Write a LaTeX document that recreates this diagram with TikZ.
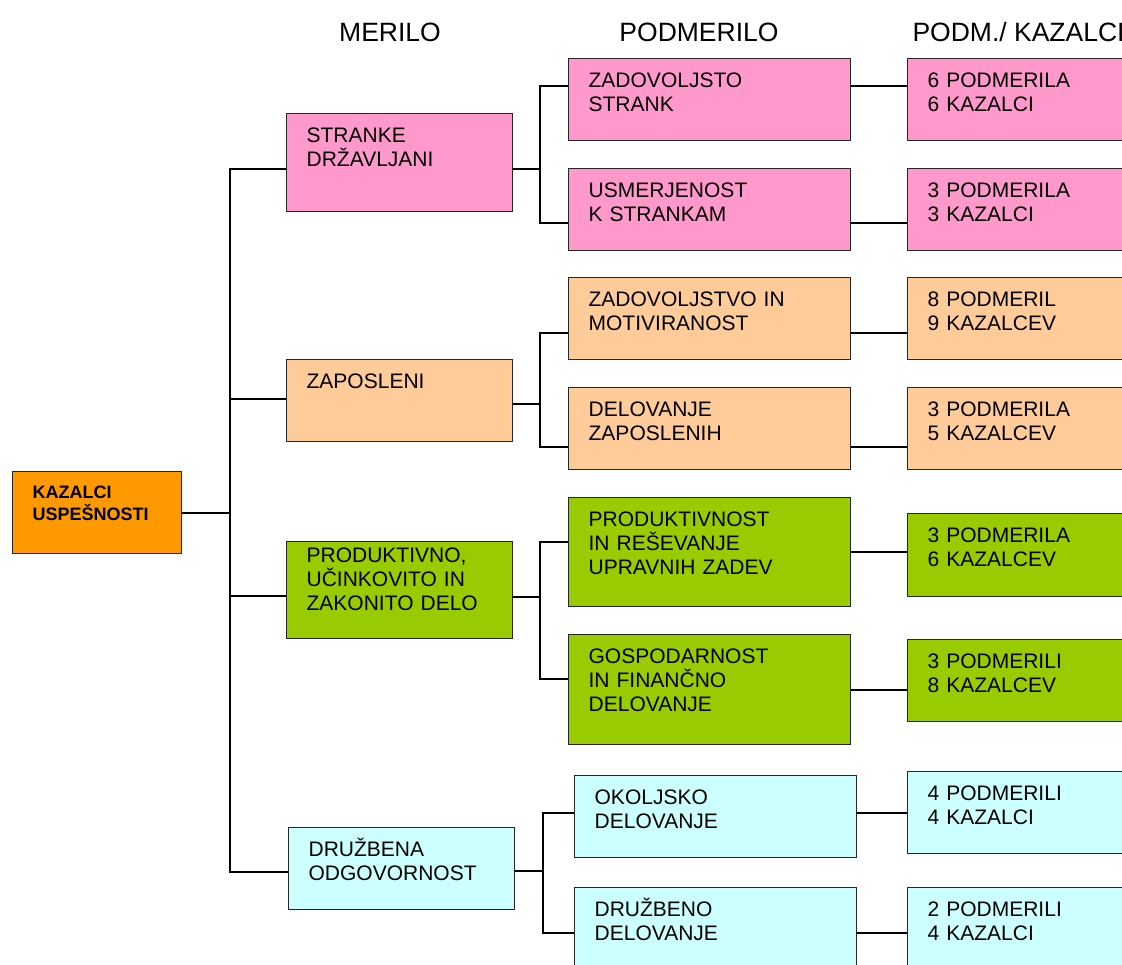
\documentclass[tikz,border=0pt]{standalone}
\usepackage{fontspec}
\setmainfont{Liberation Sans}

\definecolor{roza}{HTML}{FF99CC}
\definecolor{breskev}{HTML}{FFCC99}
\definecolor{zelena}{HTML}{99CC00}
\definecolor{modra}{HTML}{CCFFFF}
\definecolor{oranzna}{HTML}{FF9900}

\begin{document}
\begin{tikzpicture}
[x=1pt,y=-1pt,%
  box/.style={shape=rectangle,draw=black!85,line width=1.3pt,anchor=north west,%
    inner xsep=20pt,inner ysep=0pt,align=left,text height=29pt,text depth=53pt,%
    font=\fontsize{21}{24}\selectfont},%
  merilo/.style={box,text width=186pt},%
  podmerilo/.style={box,text width=242pt},%
  kazalec/.style={box,text width=242pt},%
  glava/.style={anchor=base,font=\fontsize{26.5}{30}\selectfont},%
  link/.style={line width=2pt}]
\useasboundingbox (0,0) rectangle (1122,965);

% naslovi stolpcev
\node[glava] (hmerilo) at (390,42) {MERILO};
\node[glava] (hpodmerilo) at (699,42) {PODMERILO};
\node[glava,anchor=base west] (hkazalci) at (909,42) {PODM./ KAZALCI};

% koren
\node[box,fill=oranzna,text width=129pt,text height=27pt,text depth=55pt,%
  font=\fontsize{18}{22}\selectfont\bfseries] (kazalci) at (12,471) {KAZALCI\\USPEŠNOSTI};

% merila
\node[merilo,fill=roza,text depth=69pt] (stranke) at (286,113) {STRANKE\\DRŽAVLJANI};
\node[merilo,fill=breskev] (zaposleni) at (286,359) {ZAPOSLENI};
\node[merilo,fill=zelena,text height=21pt,text depth=76pt] (delo) at (286,541)
  {PRODUKTIVNO,\\UČINKOVITO IN\\ZAKONITO DELO};
\node[merilo,fill=modra] (druzbena) at (288,827) {DRUŽBENA\\ODGOVORNOST};

% podmerila
\node[podmerilo,fill=roza] (strank) at (568,58) {ZADOVOLJSTO\\STRANK};
\node[podmerilo,fill=roza] (usmerjenost) at (568,168) {USMERJENOST\\K STRANKAM};
\node[podmerilo,fill=breskev] (motiviranost) at (568,277) {ZADOVOLJSTVO IN\\MOTIVIRANOST};
\node[podmerilo,fill=breskev] (zaposlenih) at (568,387) {DELOVANJE\\ZAPOSLENIH};
\node[podmerilo,fill=zelena,text depth=80pt] (upravne) at (568,497)
  {PRODUKTIVNOST\\IN REŠEVANJE\\UPRAVNIH ZADEV};
\node[podmerilo,fill=zelena,text depth=81pt] (gospodarnost) at (568,634)
  {GOSPODARNOST\\IN FINANČNO\\DELOVANJE};
\node[podmerilo,fill=modra] (okoljsko) at (574,775) {OKOLJSKO\\DELOVANJE};
\node[podmerilo,fill=modra] (druzbeno) at (574,887) {DRUŽBENO\\DELOVANJE};

% stevilo podmeril in kazalcev
\node[kazalec,fill=roza] (k1) at (907,58) {6 PODMERILA\\6 KAZALCI};
\node[kazalec,fill=roza] (k2) at (907,168) {3 PODMERILA\\3 KAZALCI};
\node[kazalec,fill=breskev] (k3) at (907,277) {8 PODMERIL\\9 KAZALCEV};
\node[kazalec,fill=breskev] (k4) at (907,387) {3 PODMERILA\\5 KAZALCEV};
\node[kazalec,fill=zelena,text depth=54pt] (k5) at (907,513) {3 PODMERILA\\6 KAZALCEV};
\node[kazalec,fill=zelena] (k6) at (907,639) {3 PODMERILI\\8 KAZALCEV};
\node[kazalec,fill=modra] (k7) at (907,771) {4 PODMERILI\\4 KAZALCI};
\node[kazalec,fill=modra] (k8) at (907,887) {2 PODMERILI\\4 KAZALCI};

% deblo
\coordinate (deblo) at (kazalci.east -| 230,0);
\draw[link] (kazalci.east) -- (deblo);
\draw[link] ([yshift=-6pt]stranke.west) -| (deblo);
\draw[link] ([yshift=2pt]zaposleni.west) -| (deblo);
\draw[link] ([yshift=-5.5pt]delo.west) -| (deblo);
\draw[link] ([yshift=-3pt]druzbena.west) -| (deblo);

% veje merilo -> podmerilo
\draw[link] ([yshift=-6pt]stranke.east) -- ++(27,0) coordinate (b1);
\draw[link] ([yshift=14pt]strank.west) -| (b1) |- ([yshift=-13pt]usmerjenost.west);
\draw[link] ([yshift=-3pt]zaposleni.east) -- ++(27,0) coordinate (b2);
\draw[link] ([yshift=-14pt]motiviranost.west) -| (b2) |- ([yshift=-18pt]zaposlenih.west);
\draw[link] ([yshift=-6.5pt]delo.east) -- ++(27,0) coordinate (b3);
\draw[link] ([yshift=10.5pt]upravne.west) -| (b3) |- ([yshift=11pt]gospodarnost.west);
\draw[link] ([yshift=-2pt]druzbena.east) -- ++(28,0) coordinate (b4);
\draw[link] ([yshift=4pt]okoljsko.west) -| (b4) |- ([yshift=-4pt]druzbeno.west);

% podmerilo -> kazalci
\draw[link] ([yshift=14pt]strank.east) -- ([yshift=14pt]k1.west);
\draw[link] ([yshift=-13pt]usmerjenost.east) -- ([yshift=-13pt]k2.west);
\draw[link] ([yshift=-14pt]motiviranost.east) -- ([yshift=-14pt]k3.west);
\draw[link] ([yshift=-18pt]zaposlenih.east) -- ([yshift=-18pt]k4.west);
\draw[link] ([yshift=0.5pt]upravne.east) -- ([yshift=3.5pt]k5.west);
\draw[link] (gospodarnost.east) -- ([yshift=-9pt]k6.west);
\draw[link] ([yshift=4pt]okoljsko.east) -- (k7.west);
\draw[link] ([yshift=-4pt]druzbeno.east) -- ([yshift=-4pt]k8.west);
\end{tikzpicture}
\end{document}
